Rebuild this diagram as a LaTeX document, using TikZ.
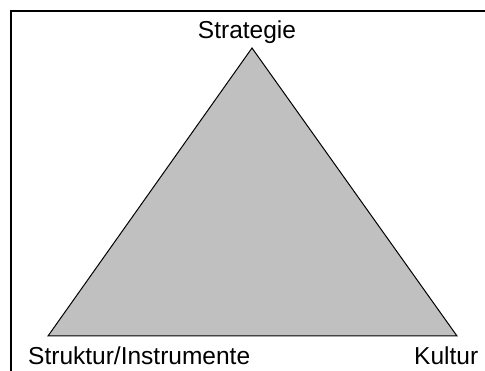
\documentclass[tikz,border=0pt]{standalone}
\usepackage{fontspec}
\setmainfont{Liberation Sans}
\definecolor{trigray}{HTML}{C0C0C0}
\tikzset{
  lbl/.style={inner sep=0pt, font=\fontsize{24.5}{28}\selectfont},
  frame/.style={line width=2pt, black},
  tri/.style={draw=black, fill=trigray, line width=1pt, line join=miter}
}
\begin{document}
\begin{tikzpicture}[x=1pt,y=-1pt]
\useasboundingbox (0,0) rectangle (485,371);
\fill[white] (0,0) rectangle (485,371);
\draw[frame] (11,372) -- (11,11) -- (486,11);
\coordinate (top) at (252,48);
\coordinate (bl) at (48,336);
\coordinate (br) at (457,336);
\draw[tri] (top) -- (br) -- (bl) -- cycle;
\node[lbl, anchor=base] (s) at (247,39) {Strategie};
\node[lbl, anchor=base west] (si) at (28,365) {Struktur/Instrumente};
\node[lbl, anchor=base west] (k) at (414,365) {Kultur};
\end{tikzpicture}
\end{document}
